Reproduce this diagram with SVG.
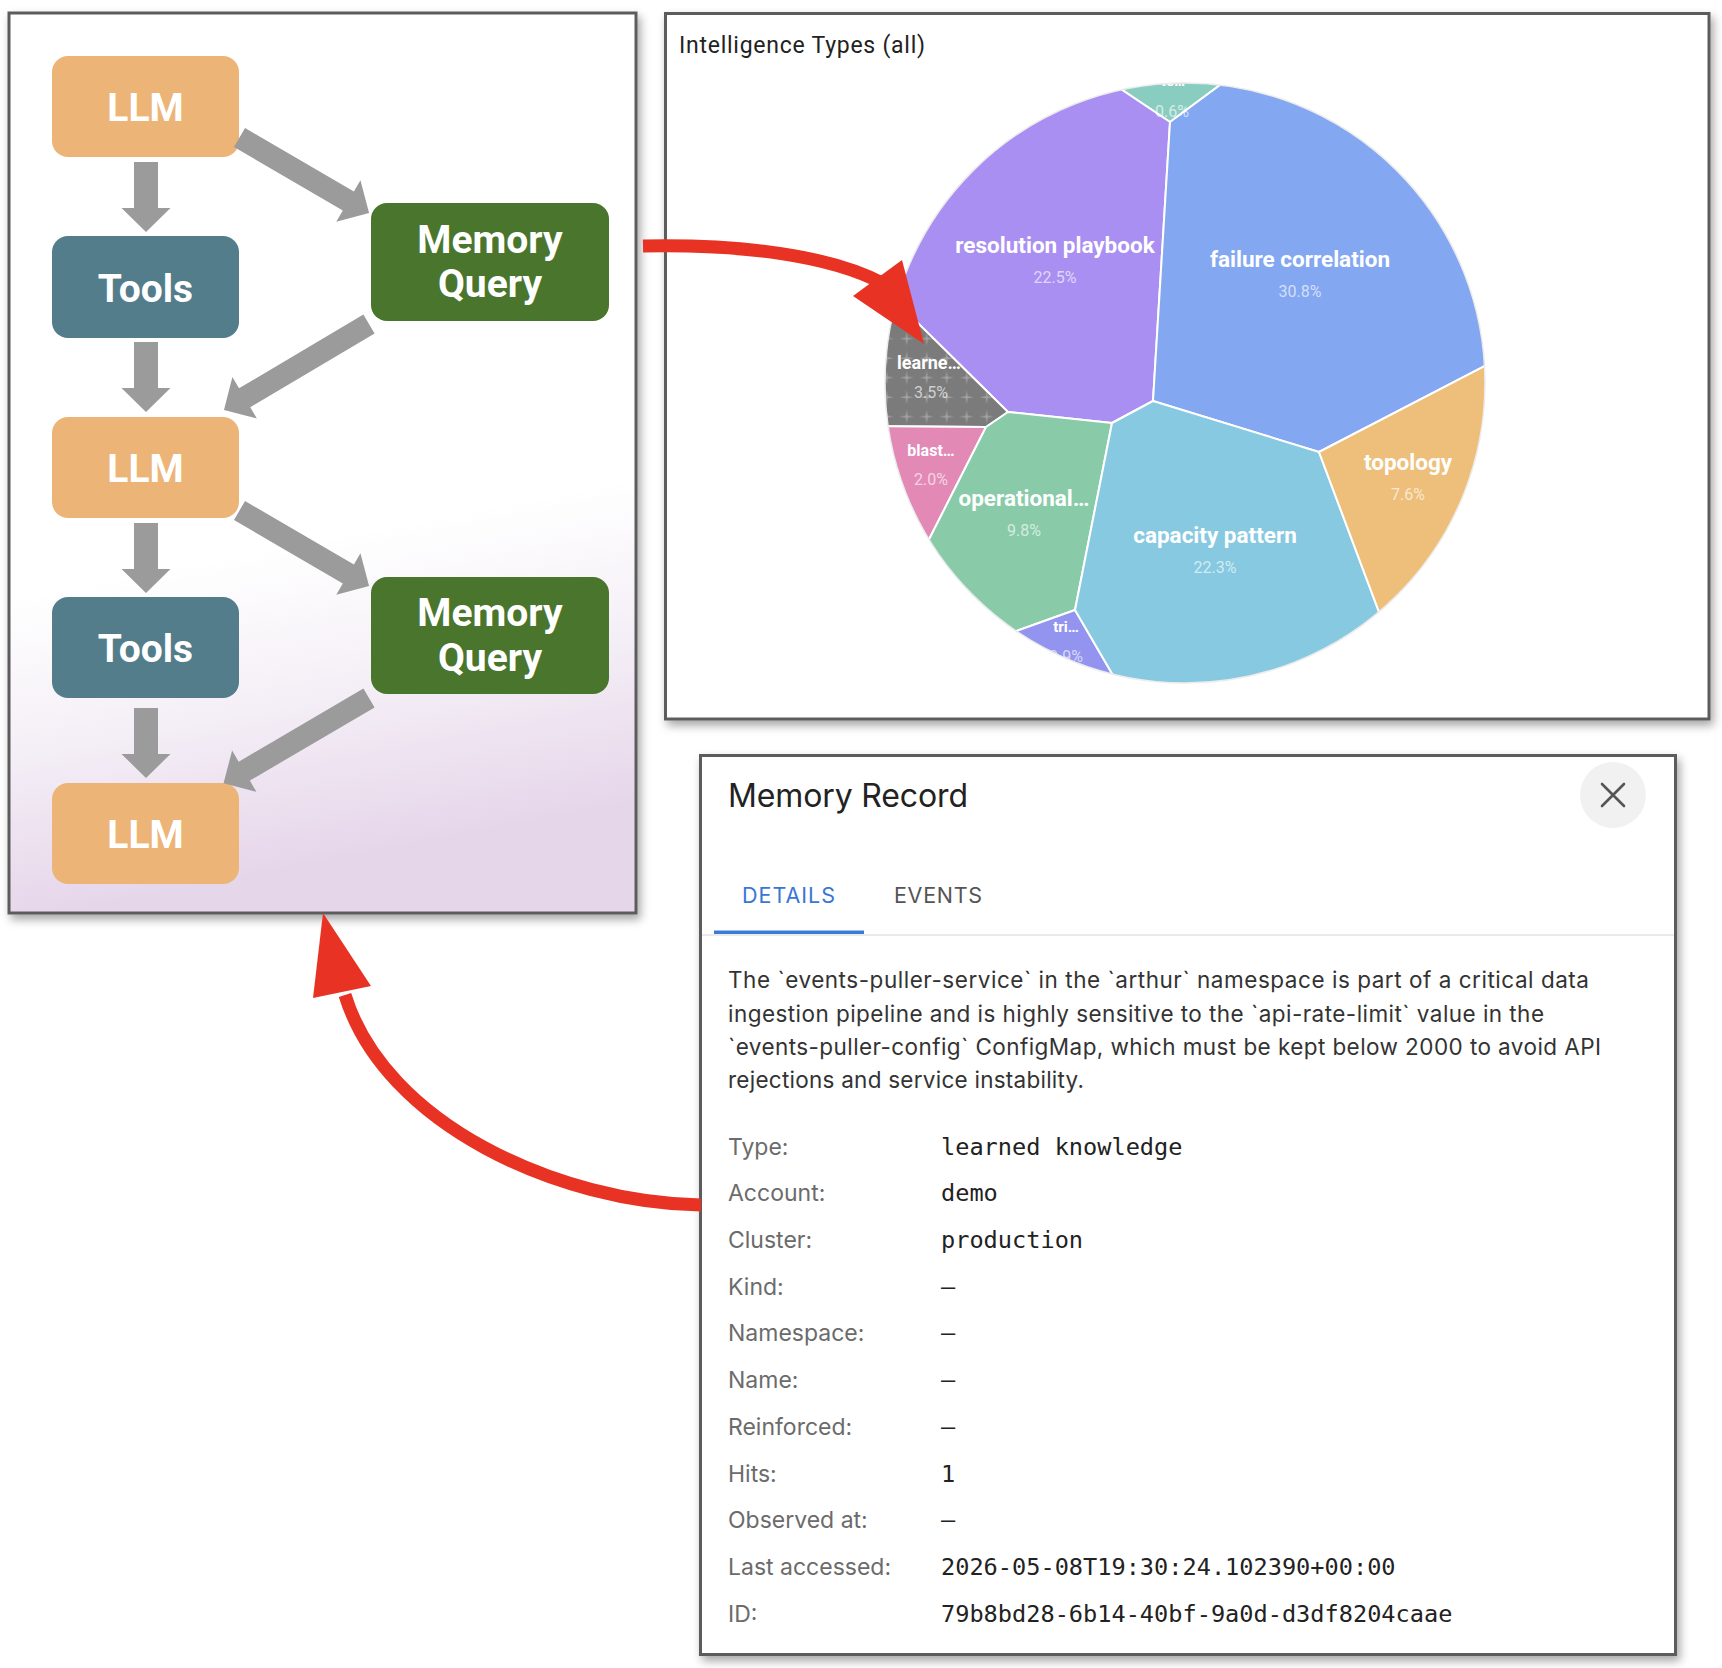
<svg xmlns="http://www.w3.org/2000/svg" width="1722" height="1668" viewBox="0 0 1722 1668">
<defs>
<style>
.panel{stroke:#5c5c5c;stroke-width:3}
.node text{font-family:Roboto,"Liberation Sans",sans-serif;font-weight:700;font-size:39px;fill:#fff;text-anchor:middle}
.llm rect{fill:#ecb577}
.tools rect{fill:#537d8b}
.mq rect{fill:#4a752d}
.garrow{fill:#9b9b9b}
.red{fill:none;stroke:#e83324;stroke-width:13}
.redhead{fill:#e83324}
.cell{stroke:#fff;stroke-width:2;stroke-linejoin:round}
.lbl{font-family:Roboto,"Liberation Sans",sans-serif;font-weight:700;fill:#fff;text-anchor:middle;font-size:22.5px}
.pct{font-family:Roboto,"Liberation Sans",sans-serif;font-weight:400;fill:#fff;fill-opacity:.65;text-anchor:middle;font-size:16px}
.rec{font-family:Inter,"Liberation Sans",sans-serif}
.body{font-size:22.5px;fill:#333}
.flabel{font-size:23px;fill:#6b6b6b}
.fval{font-family:"DejaVu Sans Mono","Liberation Mono",monospace;font-size:23.6px;fill:#222}
</style>
<filter id="shadow" x="-5%" y="-5%" width="112%" height="112%">
<feDropShadow dx="3" dy="5" stdDeviation="5" flood-color="#000" flood-opacity="0.35"/>
</filter>
<linearGradient id="lpbg" gradientUnits="userSpaceOnUse" x1="0" y1="600" x2="60" y2="913">
<stop offset="0" stop-color="#ffffff"/>
<stop offset="0.45" stop-color="#f5f0f7"/>
<stop offset="1" stop-color="#e6d6ea"/>
</linearGradient>
<clipPath id="pieclip"><circle cx="1185" cy="383" r="300"/></clipPath>
<pattern id="stars" patternUnits="userSpaceOnUse" x="896.7" y="406.7" width="20" height="19.5">
<rect width="20" height="19.5" fill="#7b7b7b"/>
<path d="M10,3 L10.9,9.1 L17,10 L10.9,10.9 L10,17 L9.1,10.9 L3,10 L9.1,9.1 Z" fill="#a3a3a3"/>
</pattern>
</defs>

<rect width="1722" height="1668" fill="#ffffff"/>

<!-- left flow panel -->
<g id="flow-panel">
<rect class="panel" x="9" y="13" width="627" height="900" fill="url(#lpbg)" filter="url(#shadow)"/>
</g>

<g id="llm1" class="node llm"><rect x="52" y="56" width="187" height="101" rx="16"/><text x="145.5" y="121">LLM</text></g>
<g id="tools1" class="node tools"><rect x="52" y="236" width="187" height="102" rx="16"/><text x="145.5" y="301.5">Tools</text></g>
<g id="llm2" class="node llm"><rect x="52" y="417" width="187" height="101" rx="16"/><text x="145.5" y="482">LLM</text></g>
<g id="tools2" class="node tools"><rect x="52" y="597" width="187" height="101" rx="16"/><text x="145.5" y="662">Tools</text></g>
<g id="llm3" class="node llm"><rect x="52" y="783" width="187" height="101" rx="16"/><text x="145.5" y="848">LLM</text></g>
<g id="mq1" class="node mq"><rect x="371" y="203" width="238" height="118" rx="16"/><text x="490" y="252.5">Memory</text><text x="490" y="297">Query</text></g>
<g id="mq2" class="node mq"><rect x="371" y="577" width="238" height="117" rx="16"/><text x="490" y="626">Memory</text><text x="490" y="670.5">Query</text></g>

<!-- chart panel -->
<g id="chart-panel">
<rect class="panel" x="665.5" y="13.5" width="1043.5" height="705.5" fill="#ffffff" filter="url(#shadow)"/>
<text x="679" y="53" font-family="Roboto, 'Liberation Sans', sans-serif" font-size="23" fill="#222" textLength="246">Intelligence Types (all)</text>
<g clip-path="url(#pieclip)">
<polygon class="cell" fill="#89cdc0" points="1170,122 1076,59 1076,30 1270,30 1270,48"/>
<polygon class="cell" fill="#a98ff2" points="1170,122 1153,401 1112,423 1008,412 862,268 840,268 840,30 1076,30 1076,59"/>
<polygon class="cell" fill="#84a7f1" points="1170,122 1270,48 1270,30 1540,30 1540,340 1535,340 1319,452 1153,401"/>
<polygon class="cell" fill="url(#stars)" points="862,268 1008,412 986,427 855,426 840,426 840,268"/>
<polygon class="cell" fill="#e389b5" points="855,426 986,427 912,573 840,573 840,426"/>
<polygon class="cell" fill="#89cba9" points="1008,412 1112,423 1075,610 983,643 912,573 986,427"/>
<polygon class="cell" fill="#9294ef" points="1075,610 1128,701 983,643"/>
<polygon class="cell" fill="#86c9e0" points="1153,401 1112,423 1075,610 1128,701 1397,660 1319,452"/>
<polygon class="cell" fill="#eebf7a" points="1319,452 1397,660 1540,660 1540,340 1535,340"/>
<text class="lbl" x="1173" y="86" style="font-size:15px">te…</text>
<text class="pct" x="1172" y="117">0.6%</text>
<text class="lbl" x="1055" y="253">resolution playbook</text>
<text class="pct" x="1055" y="283">22.5%</text>
<text class="lbl" x="1300" y="267">failure correlation</text>
<text class="pct" x="1300" y="297">30.8%</text>
<text class="lbl" x="929" y="369" style="font-size:18px">learne…</text>
<text class="pct" x="931" y="398">3.5%</text>
<text class="lbl" x="931" y="456" style="font-size:16px">blast…</text>
<text class="pct" x="931" y="485">2.0%</text>
<text class="lbl" x="1024" y="506">operational…</text>
<text class="pct" x="1024" y="536">9.8%</text>
<text class="lbl" x="1215" y="543">capacity pattern</text>
<text class="pct" x="1215" y="573">22.3%</text>
<text class="lbl" x="1408" y="470">topology</text>
<text class="pct" x="1408" y="500">7.6%</text>
<text class="lbl" x="1066" y="632" style="font-size:15px">tri…</text>
<text class="pct" x="1066" y="662">0.9%</text>
</g>
<circle cx="1185" cy="383" r="300" fill="none" stroke="#ececec" stroke-width="1.5"/>
</g>

<!-- memory record panel -->
<g id="record-panel" class="rec">
<rect class="panel" x="700.5" y="755.5" width="975" height="899" fill="#ffffff" filter="url(#shadow)"/>
<text x="728" y="807" font-size="32" fill="#222" textLength="240">Memory Record</text>
<circle cx="1613" cy="795" r="33" fill="#f1f1f1"/>
<path d="M1602,784 L1624,806 M1624,784 L1602,806" stroke="#555" stroke-width="2.6" stroke-linecap="round"/>
<text x="742" y="903" font-size="21.5" fill="#3a76d4" textLength="93">DETAILS</text>
<text x="894" y="903" font-size="21.5" fill="#555" textLength="88">EVENTS</text>
<line x1="702" y1="935" x2="1674" y2="935" stroke="#e3e3e3" stroke-width="1.5"/>
<rect x="714" y="930.5" width="150" height="3.5" fill="#3a7bd8"/>
<text class="body" x="728" y="988" textLength="861">The `events-puller-service` in the `arthur` namespace is part of a critical data</text>
<text class="body" x="728" y="1021.5" textLength="816">ingestion pipeline and is highly sensitive to the `api-rate-limit` value in the</text>
<text class="body" x="728" y="1055" textLength="873">`events-puller-config` ConfigMap, which must be kept below 2000 to avoid API</text>
<text class="body" x="728" y="1088" textLength="356">rejections and service instability.</text>
<text class="flabel" x="728" y="1154.5">Type:</text>
<text class="flabel" x="728" y="1201.2">Account:</text>
<text class="flabel" x="728" y="1248">Cluster:</text>
<text class="flabel" x="728" y="1294.7">Kind:</text>
<text class="flabel" x="728" y="1341.4">Namespace:</text>
<text class="flabel" x="728" y="1388.2">Name:</text>
<text class="flabel" x="728" y="1434.9">Reinforced:</text>
<text class="flabel" x="728" y="1481.6">Hits:</text>
<text class="flabel" x="728" y="1528.3">Observed at:</text>
<text class="flabel" x="728" y="1575.1">Last accessed:</text>
<text class="flabel" x="728" y="1621.8">ID:</text>
<text class="fval" x="941" y="1154.5">learned knowledge</text>
<text class="fval" x="941" y="1201.2">demo</text>
<text class="fval" x="941" y="1248">production</text>
<text class="fval" x="941" y="1294.7">–</text>
<text class="fval" x="941" y="1341.4">–</text>
<text class="fval" x="941" y="1388.2">–</text>
<text class="fval" x="941" y="1434.9">–</text>
<text class="fval" x="941" y="1481.6">1</text>
<text class="fval" x="941" y="1528.3">–</text>
<text class="fval" x="941" y="1575.1">2026-05-08T19:30:24.102390+00:00</text>
<text class="fval" x="941" y="1621.8">79b8bd28-6b14-40bf-9a0d-d3df8204caae</text>
</g>

<!-- connectors -->
<g id="connectors">
<polygon class="garrow" points="0,-12 46,-12 46,-24.5 70,0 46,24.5 46,12 0,12" transform="translate(146 162) rotate(90)"/>
<polygon class="garrow" points="0,-12 46,-12 46,-24.5 70,0 46,24.5 46,12 0,12" transform="translate(146 342) rotate(90)"/>
<polygon class="garrow" points="0,-12 46,-12 46,-24.5 70,0 46,24.5 46,12 0,12" transform="translate(146 523) rotate(90)"/>
<polygon class="garrow" points="0,-12 46,-12 46,-24.5 70,0 46,24.5 46,12 0,12" transform="translate(146 708) rotate(90)"/>
<polygon class="garrow" points="0,-11 126,-11 126,-24 150,0 126,24 126,11 0,11" transform="translate(239.5 137.5) rotate(30.24)"/>
<polygon class="garrow" points="0,-11 144.6,-11 144.6,-24 168.6,0 144.6,24 144.6,11 0,11" transform="translate(369 324) rotate(149.33)"/>
<polygon class="garrow" points="0,-11 126,-11 126,-24 150,0 126,24 126,11 0,11" transform="translate(239.5 510.5) rotate(30.24)"/>
<polygon class="garrow" points="0,-11 144.6,-11 144.6,-24 168.6,0 144.6,24 144.6,11 0,11" transform="translate(369 698) rotate(149.62)"/>
<path class="red" d="M643,246 C740,244 830,255 884,284"/>
<polygon class="redhead" points="902,260 924,344 853,296"/>
<path class="red" d="M701,1205 C560,1203 385,1125 345,995"/>
<polygon class="redhead" points="323,913 371,986 313,998"/>
</g>
</svg>
